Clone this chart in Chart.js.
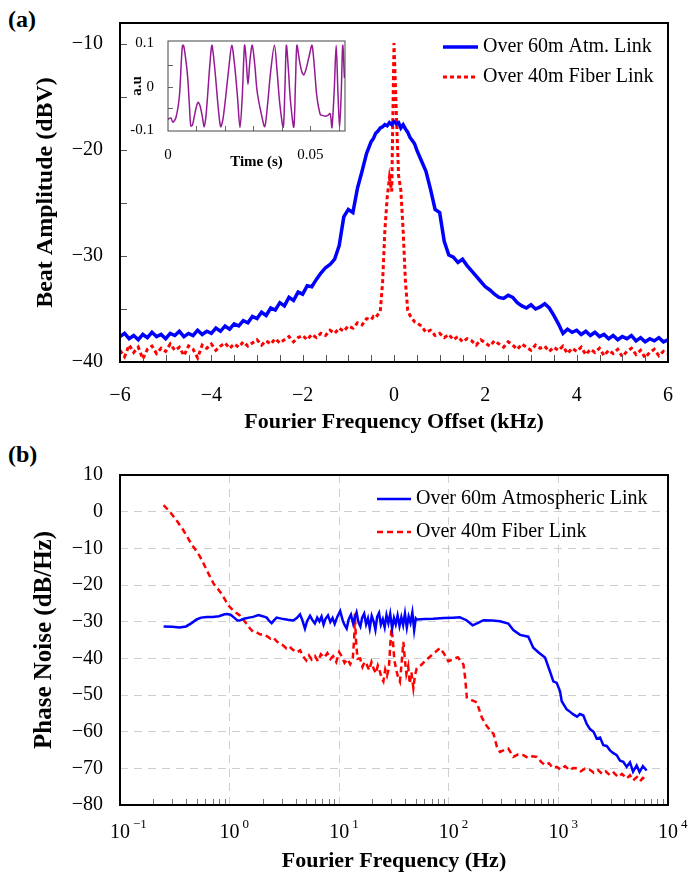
<!DOCTYPE html>
<html>
<head>
<meta charset="utf-8">
<script src="https://cdn.jsdelivr.net/npm/chart.js@4.4.0/dist/chart.umd.min.js"></script>
<style>
  body { margin: 0; background: #fff; width: 691px; height: 886px; position: relative; overflow: hidden; }
  canvas { position: absolute; }
  #chartA { left: 0; top: 0; }
  #inset { left: 110px; top: 28px; }
  #chartB { left: 0; top: 440px; }
  .panel { position: absolute; font: bold 24px/24px "Liberation Serif", serif; }
</style>
</head>
<body>
<div class="panel" style="left:8px; top:7px;">(a)</div>
<div class="panel" style="left:8px; top:442px;">(b)</div>
<canvas id="chartA" width="691" height="440"></canvas>
<canvas id="inset" width="250" height="150"></canvas>
<canvas id="chartB" width="691" height="446"></canvas>
<script>
// (a) beat spectrum, kHz offset
const freqA = [
  -6, -5.9, -5.8, -5.7, -5.6, -5.5, -5.4, -5.3, -5.2, -5.1,
  -5, -4.9, -4.8, -4.7, -4.6, -4.5, -4.4, -4.3, -4.2, -4.1,
  -4, -3.9, -3.8, -3.7, -3.6, -3.5, -3.4, -3.3, -3.2, -3.1,
  -3, -2.9, -2.8, -2.7, -2.6, -2.5, -2.4, -2.3, -2.2, -2.1,
  -2, -1.9, -1.8, -1.7, -1.6, -1.5, -1.4, -1.3, -1.2, -1.1,
  -1, -0.9, -0.8, -0.7, -0.6,
  -0.5, -0.45, -0.4, -0.35, -0.3, -0.25, -0.2, -0.15, -0.1, -0.05, 0,
  0.05, 0.1, 0.15, 0.2, 0.25, 0.3, 0.35, 0.4, 0.45, 0.5,
  0.6, 0.7, 0.8, 0.9, 1, 1.1, 1.2, 1.3, 1.4, 1.5,
  1.6, 1.7, 1.8, 1.9, 2, 2.1, 2.2, 2.3, 2.4, 2.5,
  2.6, 2.7, 2.8, 2.9, 3, 3.1, 3.2, 3.3, 3.4, 3.5,
  3.6, 3.7, 3.8, 3.9, 4, 4.1, 4.2, 4.3, 4.4, 4.5,
  4.6, 4.7, 4.8, 4.9, 5, 5.1, 5.2, 5.3, 5.4, 5.5,
  5.6, 5.7, 5.8, 5.9, 6
];
const atmA = [
  -37.6, -37.3, -37.8, -37.5, -37.9, -37.4, -37.7, -37.2, -37.6, -37.4,
  -37.8, -37.3, -37.5, -37.1, -37.6, -37.3, -37.5, -37.0, -37.4, -37.1,
  -37.3, -36.8, -37.1, -36.6, -36.9, -36.4, -36.6, -36.1, -36.3, -35.7,
  -35.9, -35.3, -35.6, -34.9, -35.1, -34.4, -34.7, -33.9, -34.2, -33.4,
  -33.6, -32.8, -32.9, -32.2, -31.6, -31.1, -30.8, -30.3, -29.0, -26.3,
  -25.6, -25.9, -23.6, -22.0, -20.3,
  -19.2, -18.9, -18.4, -18.2, -17.9, -17.8, -17.6, -17.7, -17.4, -17.6, -17.3,
  -17.5, -17.4, -17.9, -17.6, -18.0, -18.3, -18.8, -19.1, -19.4, -20.0,
  -21.0, -22.0, -23.7, -25.6, -25.9, -28.6, -29.9, -30.1, -30.6, -30.3,
  -30.9, -31.4, -31.9, -32.4, -32.9, -33.2, -33.6, -33.9, -34.0, -33.7,
  -33.9, -34.4, -34.7, -34.9, -34.6, -35.0, -34.8, -34.5, -34.9, -35.6,
  -36.4, -37.3, -36.9, -37.2, -37.0, -37.4, -37.1, -37.5, -37.2, -37.6,
  -37.4, -37.8, -37.5, -37.9, -37.6, -37.8, -37.5, -38.0, -37.7, -38.1,
  -37.8, -38.0, -37.7, -38.1, -37.9
];
const fiberA = [
  -38.9, -39.5, -38.4, -39.1, -38.6, -39.7, -38.8, -38.5, -39.2, -38.7,
  -39.0, -38.3, -38.9, -38.6, -39.4, -38.5, -38.8, -39.6, -38.4, -38.7,
  -38.3, -38.9, -38.5, -38.2, -38.7, -38.3, -38.6, -38.1, -38.5, -38.2,
  -37.9, -38.4, -38.0, -38.3, -37.8, -38.2, -37.9, -37.6, -38.1, -37.7,
  -37.5, -37.9, -37.4, -37.7, -37.3, -37.5, -37.0, -37.3, -36.8, -37.1,
  -36.6, -36.8, -36.3, -36.5, -35.9,
  -36.0, -35.7, -35.8, -35.5, -35.2, -32.5, -27.6, -24.5, -22.6, -23.9, -9.9,
  -16.4, -22.4, -23.8, -27.6, -32.4, -35.1, -35.6, -35.9, -36.2, -36.3,
  -36.6, -37.2, -37.0, -37.5, -37.3, -37.7, -37.4, -37.9, -37.6, -38.1,
  -37.8, -38.0, -38.4, -37.9, -38.2, -38.5, -38.0, -38.3, -38.6, -38.1,
  -38.4, -38.8, -38.3, -38.6, -38.9, -38.4, -38.7, -38.5, -39.0, -38.6,
  -38.9, -38.5, -39.2, -38.7, -39.0, -38.6, -39.3, -38.8, -39.1, -38.7,
  -39.4, -38.9, -39.2, -38.8, -39.5, -39.0, -38.7, -39.3, -38.9, -39.6,
  -39.1, -38.8, -39.4, -39.0, -39.2
];
const xTicksA = [-6, -4, -2, 0, 2, 4, 6];
const yTicksA = [-40, -30, -20, -10];

// inset, time trace
const insetTime = [
  0, 0.001, 0.0017, 0.0028, 0.004, 0.0047, 0.0051, 0.0055, 0.0062, 0.0069,
  0.0075, 0.008, 0.0086, 0.0092, 0.0099, 0.0106, 0.0113, 0.0121, 0.0127, 0.0133,
  0.0139, 0.0147, 0.0154, 0.016, 0.0168, 0.0176, 0.0185, 0.0193, 0.0203, 0.0214,
  0.0224, 0.0234, 0.0244, 0.0253, 0.0261, 0.0269, 0.0275, 0.0281, 0.0288, 0.0296,
  0.0305, 0.0313, 0.0327, 0.034, 0.035, 0.036, 0.0374, 0.0384, 0.0393, 0.0405,
  0.0411, 0.0416, 0.0423, 0.043, 0.0442, 0.0448, 0.0453, 0.0462, 0.047, 0.0477,
  0.0485, 0.0496, 0.0506, 0.0515, 0.0523, 0.0535, 0.0543, 0.0552, 0.0562, 0.057,
  0.0576, 0.0584, 0.0591, 0.0597, 0.0603, 0.0609, 0.0614, 0.062
];
const insetAmp = [
  -0.075, -0.072, -0.082, -0.071, -0.022, 0.06, 0.095, 0.094, 0.065, 0.023,
  -0.04, -0.09, -0.088, -0.07, -0.048, -0.036, -0.045, -0.07, -0.093, -0.07,
  -0.022, 0.05, 0.095, 0.07, 0.016, -0.045, -0.092, -0.075, -0.022, 0.045,
  0.095, 0.05, -0.022, -0.094, -0.022, 0.095, 0.06, 0.005, 0.06, 0.095,
  0.05, -0.01, -0.06, -0.092, -0.04, 0.03, 0.095, 0.03, -0.04, -0.093,
  0, 0.095, 0.04, -0.03, -0.093, 0.01, 0.095, 0.06, 0.035, 0.027,
  0.04, 0.07, 0.095, 0.04, -0.022, -0.064, -0.066, -0.068, -0.066, -0.062,
  -0.094, -0.01, 0.095, -0.01, -0.094, -0.01, 0.095, 0.02
];

// (b) phase noise, Hz
const atmFreqB = [
  0.25, 0.3, 0.35, 0.4, 0.45, 0.5, 0.55, 0.62, 0.7, 0.8,
  0.9, 0.95, 1.02, 1.1, 1.18, 1.26, 1.35, 1.5, 1.64, 1.83,
  2, 2.18, 2.3, 2.42, 2.55, 2.69, 2.9, 3.09, 3.4, 3.81,
  4.1, 4.39, 4.6, 4.87, 5.1, 5.42, 5.7, 6, 6.3, 6.6,
  6.9, 7.2, 7.5, 7.9, 8.3, 8.7, 9.1, 9.6, 10.2, 10.8,
  11.2, 11.7, 12.2, 12.8, 13.4, 14, 14.4, 15, 15.6, 16.2,
  16.9, 17.6, 18.3, 19, 19.8, 20.6, 21.4, 22.2, 23.1, 24,
  25, 26, 27, 28.1, 29.2, 30.4, 31.6, 32.8, 34.1, 35.5,
  36.9, 38.3, 39.8, 41.4, 43, 44.7, 46.5, 48.3, 50, 51,
  60, 72, 90, 110, 126, 145, 165, 185, 207, 250,
  293, 349, 388, 447, 531, 590, 660, 755, 838, 899,
  965, 1035, 1072, 1190, 1280, 1368, 1480, 1574, 1690, 1812,
  1942, 2100, 2235, 2400, 2570, 2760, 2958, 3150, 3403, 3650,
  3911, 4196, 4500, 4800, 5178, 5500, 5900, 6385
];
const atmB = [
  -31.3, -31.4, -31.6, -31.3, -30.4, -29.4, -28.9, -28.7, -28.7, -28.5,
  -28.0, -27.9, -28.1, -28.9, -29.7, -29.6, -29.2, -28.9, -28.7, -28.2,
  -28.5, -28.9, -29.8, -30.4, -29.6, -28.9, -29.1, -29.3, -29.5, -29.7,
  -29.0, -28.0, -29.5, -31.9, -29.8, -28.4, -29.6, -30.5, -28.9, -29.9,
  -28.6, -30.8, -29.2, -28.3, -30.1, -29.0, -30.6, -28.7, -27.1, -29.8,
  -30.9, -31.9, -29.4, -28.1, -30.5, -28.6, -27.5, -30.2, -31.3, -28.9,
  -27.8, -30.7, -29.1, -31.8, -28.4, -29.9, -32.2, -28.7, -27.6, -30.8,
  -29.3, -31.5, -28.2, -30.4, -27.9, -31.9, -29.0, -30.7, -28.3, -31.2,
  -28.8, -30.9, -27.8, -31.6, -28.6, -30.3, -27.5, -32.3, -29.1, -29.4,
  -29.3, -29.2, -29.0, -28.9, -28.8, -29.6, -31.0, -30.3, -29.6, -29.7,
  -29.9, -30.5, -32.3, -33.6, -34.1, -37.1, -38.4, -39.8, -43.6, -46.3,
  -46.7, -49.0, -51.7, -53.9, -54.6, -55.3, -55.9, -55.2, -55.6, -57.9,
  -59.3, -60.1, -61.9, -61.6, -63.7, -63.9, -65.1, -65.8, -66.4, -67.9,
  -68.2, -69.6, -68.4, -70.9, -69.2, -71.0, -69.4, -70.6
];
const fiberFreqB = [
  0.25, 0.29, 0.33, 0.37, 0.41, 0.45, 0.5, 0.54, 0.58, 0.62,
  0.67, 0.72, 0.78, 0.84, 0.9, 0.97, 1.05, 1.14, 1.24, 1.33,
  1.43, 1.53, 1.64, 1.76, 1.9, 2.03, 2.2, 2.35, 2.5, 2.68,
  2.86, 3.05, 3.3, 3.5, 3.8, 4.1, 4.4, 4.7, 5, 5.3,
  5.6, 6, 6.4, 6.8, 7.3, 7.8, 8.3, 8.8, 9.4, 10,
  10.6, 11.2, 11.9, 12.6, 13.3, 13.7, 13.9, 14.2, 14.7, 15.5,
  16.3, 17.1, 17.9, 18.8, 19.7, 20.6, 21.6, 22.5, 23.5, 24.4,
  25.3, 26.3, 27.3, 28.4, 29.2, 30, 30.8, 31.8, 32.9, 34.2,
  35.8, 37.2, 38.5, 39.6, 41, 42.6, 44, 45.6, 47.5, 49.2,
  51, 56, 63, 72, 83, 90, 99, 108, 121, 132,
  136, 141, 146, 162, 180, 200, 220, 239, 256, 275,
  293, 320, 349, 388, 430, 480, 530, 580, 635, 700,
  755, 820, 890, 965, 1050, 1150, 1260, 1370, 1480, 1600,
  1750, 1942, 2100, 2300, 2500, 2700, 2958, 3200, 3500, 3800,
  4196, 4500, 4800, 5200, 5560, 5900, 6200
];
const fiberB = [
  1.8, -0.3, -2.5, -4.6, -6.8, -8.9, -10.8, -12.4, -14.2, -16.0,
  -18.0, -19.8, -21.0, -22.3, -23.8, -25.5, -26.6, -27.5, -28.3, -29.4,
  -30.6, -31.8, -32.8, -32.9, -33.5, -33.4, -34.0, -34.6, -34.3, -35.3,
  -36.0, -36.4, -37.3, -36.8, -37.7, -38.4, -37.8, -39.5, -40.6, -39.2,
  -40.3, -39.4, -40.8, -38.9, -39.8, -38.6, -40.2, -39.4, -41.0, -38.3,
  -39.6, -41.2, -40.2, -41.6, -40.0, -34.6, -27.8, -34.8, -40.1, -40.0,
  -42.3, -40.9, -41.8, -43.2, -41.0, -42.8, -44.1, -42.0, -43.6, -45.4,
  -46.3, -43.1, -44.7, -42.7, -36.5, -31.9, -34.6, -40.3, -42.7, -44.8,
  -46.3, -41.0, -35.5, -39.8, -44.2, -42.1, -46.9, -43.8, -48.1, -44.6,
  -42.7, -41.8, -40.3, -38.8, -37.2, -38.6, -40.8, -40.3, -39.7, -41.2,
  -41.7, -45.3, -50.7, -51.4, -52.0, -56.1, -58.3, -59.7, -60.6, -64.2,
  -65.5, -65.0, -64.6, -66.9, -66.2, -66.4, -67.2, -66.7, -66.9, -68.3,
  -69.1, -68.6, -69.9, -69.6, -70.3, -69.4, -70.5, -69.9, -70.0, -70.8,
  -70.1, -70.4, -71.2, -70.5, -71.5, -70.8, -71.9, -71.2, -72.4, -71.5,
  -72.8, -71.9, -73.3, -72.4, -73.5, -72.6, -73.0
];
const decadesB = [-1, 0, 1, 2, 3, 4];
const yTicksB = [-80, -70, -60, -50, -40, -30, -20, -10, 0, 10];

Chart.defaults.font.family = '"Liberation Serif", "Times New Roman", serif';
Chart.defaults.color = '#000';

const minus = (v) => (v < 0 ? '\u2212' + Math.abs(v) : String(v));
const pairs = (xs, ys) => xs.map((x, i) => ({ x: x, y: ys[i] }));

// fixed axis boxes, no label overflow padding
const fixX = (h) => (s) => { s.height = h; s.paddingLeft = 0; s.paddingRight = 0; };
const fixY = (w) => (s) => { s.width = w; s.paddingTop = 0; s.paddingBottom = 0; };

// frame, inside tick marks, legend and power-of-ten labels
const boxPlugin = {
  id: 'box',
  beforeDraw(chart, args, o) {
    if (!o.fill) return;
    const a = chart.chartArea;
    chart.ctx.save();
    chart.ctx.fillStyle = o.fill;
    chart.ctx.fillRect(a.left, a.top, a.width, a.height);
    chart.ctx.restore();
  },
  afterDraw(chart, args, o) {
    const { ctx, chartArea: a, scales } = chart;
    ctx.save();
    ctx.strokeStyle = o.tickColor;
    ctx.lineWidth = 1;
    ctx.beginPath();
    (o.xMarks || []).forEach((v) => {
      const px = Math.round(scales.x.getPixelForValue(v)) + 0.5;
      ctx.moveTo(px, a.bottom);
      ctx.lineTo(px, a.bottom - o.tickLen);
    });
    (o.yMarks || []).forEach((v) => {
      const py = Math.round(scales.y.getPixelForValue(v)) + 0.5;
      ctx.moveTo(a.left, py);
      ctx.lineTo(a.left + o.tickLen, py);
    });
    ctx.stroke();

    ctx.strokeStyle = o.color;
    ctx.lineWidth = o.width;
    ctx.strokeRect(a.left, a.top, a.width, a.height);

    (o.legend || []).forEach((item, i) => {
      const ds = chart.data.datasets[i];
      ctx.beginPath();
      ctx.setLineDash(ds.borderDash || []);
      ctx.strokeStyle = ds.borderColor;
      ctx.lineWidth = ds.borderWidth;
      ctx.moveTo(item.x1, item.y);
      ctx.lineTo(item.x2, item.y);
      ctx.stroke();
      ctx.setLineDash([]);
      ctx.fillStyle = '#000';
      ctx.font = '20px "Liberation Serif", serif';
      ctx.textAlign = 'left';
      ctx.textBaseline = 'middle';
      ctx.fillText(ds.label, item.x2 + 5, item.y);
    });

    if (o.powers) {
      ctx.fillStyle = '#000';
      ctx.textBaseline = 'middle';
      o.powers.forEach((k) => {
        const px = scales.x.getPixelForValue(Math.pow(10, k));
        ctx.font = '20px "Liberation Serif", serif';
        ctx.textAlign = 'center';
        ctx.fillText('10', px, o.powerY);
        ctx.font = '13px "Liberation Serif", serif';
        ctx.textAlign = 'left';
        ctx.fillText(minus(k), px + 13, o.powerY - 8);
      });
    }
    ctx.restore();
  }
};

// tick mark positions
const xMarksA = [];
for (let v = -6; v <= 6; v += 0.5) xMarksA.push(v);
const yMarksA = [-35, -30, -25, -20, -15, -10];
const xMarksIn = [0.01, 0.02, 0.03, 0.04, 0.05, 0.06];
const yMarksIn = [-0.05, 0, 0.05];
const xMarksB = [];
decadesB.slice(0, -1).forEach((k) => {
  for (let m = 2; m <= 9; m++) xMarksB.push(m * Math.pow(10, k));
});

new Chart(document.getElementById('chartA'), {
  type: 'line',
  data: {
    datasets: [
      { label: 'Over 60m Atm. Link', data: pairs(freqA, atmA), borderColor: '#0000ff', borderWidth: 3.5, pointRadius: 0 },
      { label: 'Over 40m Fiber Link', data: pairs(freqA, fiberA), borderColor: '#ff0000', borderWidth: 3, borderDash: [4, 3], pointRadius: 0 }
    ]
  },
  options: {
    responsive: false,
    animation: false,
    devicePixelRatio: 1,
    layout: { padding: { top: 23, right: 23, left: 0, bottom: 0 } },
    plugins: {
      legend: { display: false },
      tooltip: { enabled: false },
      box: {
        color: '#000', width: 2, tickColor: '#555', tickLen: 7,
        xMarks: xMarksA, yMarks: yMarksA,
        legend: [{ x1: 443, x2: 478, y: 47 }, { x1: 443, x2: 478, y: 77 }]
      }
    },
    scales: {
      x: {
        type: 'linear', min: -6, max: 6,
        grid: { display: false, drawTicks: false },
        border: { display: false },
        afterBuildTicks: (s) => { s.ticks = xTicksA.map((v) => ({ value: v })); },
        afterFit: fixX(78),
        ticks: { padding: 22, font: { size: 20 }, callback: minus },
        title: { display: true, text: 'Fourier Frequency Offset (kHz)', font: { size: 22, weight: 'bold' }, padding: { top: 0, bottom: 4 } }
      },
      y: {
        min: -40, max: -8,
        grid: { display: false, drawTicks: false },
        border: { display: false },
        afterBuildTicks: (s) => { s.ticks = yTicksA.map((v) => ({ value: v })); },
        afterFit: fixY(120),
        ticks: { padding: 17, font: { size: 20 }, callback: minus },
        title: { display: true, text: 'Beat Amplitude (dBV)', font: { size: 24, weight: 'bold' }, padding: { top: 31, bottom: 0 } }
      }
    }
  },
  plugins: [boxPlugin]
});

new Chart(document.getElementById('inset'), {
  type: 'line',
  data: {
    datasets: [
      { label: 'a.u', data: pairs(insetTime, insetAmp), borderColor: '#951a95', borderWidth: 1.5, pointRadius: 0, tension: 0.3 }
    ]
  },
  options: {
    responsive: false,
    animation: false,
    devicePixelRatio: 1,
    layout: { padding: { top: 13, right: 15, left: 0, bottom: 0 } },
    plugins: {
      legend: { display: false },
      tooltip: { enabled: false },
      box: { fill: '#fff', color: '#444', width: 1, tickColor: '#666', tickLen: 5, xMarks: xMarksIn, yMarks: yMarksIn }
    },
    scales: {
      x: {
        type: 'linear', min: 0, max: 0.0622,
        grid: { display: false, drawTicks: false },
        border: { display: false },
        afterBuildTicks: (s) => { s.ticks = [0, 0.05].map((v) => ({ value: v })); },
        afterFit: fixX(47),
        ticks: { padding: 15, font: { size: 15 }, callback: (v) => String(v) },
        title: { display: true, text: 'Time (s)', font: { size: 15, weight: 'bold' }, padding: { top: 0, bottom: 7 } }
      },
      y: {
        min: -0.102, max: 0.105,
        grid: { display: false, drawTicks: false },
        border: { display: false },
        afterBuildTicks: (s) => { s.ticks = [-0.1, 0, 0.1].map((v) => ({ value: v })); },
        afterFit: fixY(58),
        ticks: { padding: 14, font: { size: 15 }, callback: (v) => String(v) },
        title: { display: true, text: 'a.u', font: { size: 15, weight: 'bold' }, padding: { top: 18, bottom: 0 } }
      }
    }
  },
  plugins: [boxPlugin]
});

new Chart(document.getElementById('chartB'), {
  type: 'line',
  data: {
    datasets: [
      { label: 'Over 60m Atmospheric Link', data: pairs(atmFreqB, atmB), borderColor: '#0000ff', borderWidth: 2.5, pointRadius: 0 },
      { label: 'Over 40m Fiber Link', data: pairs(fiberFreqB, fiberB), borderColor: '#ff0000', borderWidth: 2.5, borderDash: [6, 4], pointRadius: 0 }
    ]
  },
  options: {
    responsive: false,
    animation: false,
    devicePixelRatio: 1,
    layout: { padding: { top: 35, right: 23, left: 0, bottom: 0 } },
    plugins: {
      legend: { display: false },
      tooltip: { enabled: false },
      box: {
        color: '#000', width: 2, tickColor: '#777', tickLen: 6,
        xMarks: xMarksB,
        legend: [{ x1: 377, x2: 411, y: 59 }, { x1: 377, x2: 411, y: 92 }],
        powers: decadesB, powerY: 393
      }
    },
    scales: {
      x: {
        type: 'logarithmic', min: 0.1, max: 10000,
        grid: { color: '#cfcfcf', lineWidth: 1, drawTicks: false },
        border: { display: false, dash: [8, 6] },
        afterBuildTicks: (s) => { s.ticks = decadesB.map((k) => ({ value: Math.pow(10, k) })); },
        afterFit: fixX(81),
        ticks: { display: false },
        title: { display: true, text: 'Fourier Frequency (Hz)', font: { size: 22, weight: 'bold' }, padding: { top: 0, bottom: 11 } }
      },
      y: {
        min: -80, max: 10,
        grid: { color: '#cfcfcf', lineWidth: 1, drawTicks: false },
        border: { display: false, dash: [8, 6] },
        afterBuildTicks: (s) => { s.ticks = yTicksB.map((v) => ({ value: v })); },
        afterFit: fixY(120),
        ticks: { padding: 17, font: { size: 20 }, callback: minus },
        title: { display: true, text: 'Phase Noise (dB/Hz)', font: { size: 25, weight: 'bold' }, padding: { top: 30, bottom: 0 } }
      }
    }
  },
  plugins: [boxPlugin]
});
</script>
</body>
</html>
